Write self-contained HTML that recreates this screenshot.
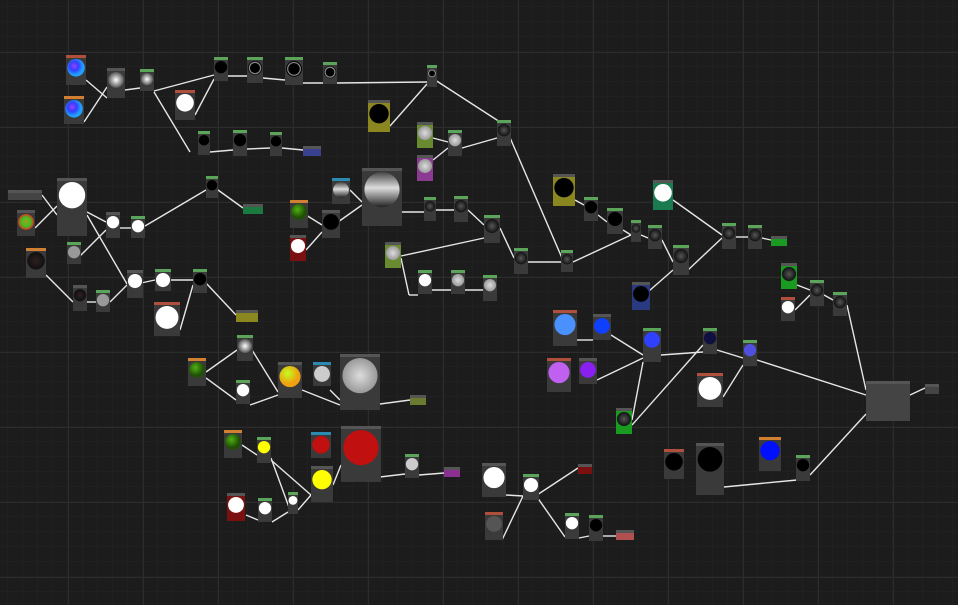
<!DOCTYPE html>
<html><head><meta charset="utf-8"><style>
html,body{margin:0;padding:0;background:#1c1c1c;width:958px;height:605px;overflow:hidden}
svg{display:block}
</style></head><body>
<svg id="s" width="958" height="605" xmlns="http://www.w3.org/2000/svg">
<defs>
<pattern id="minor" width="15" height="15" patternUnits="userSpaceOnUse" x="8" y="7"><path d="M15 0V15H0" fill="none" stroke="#232323" stroke-width="1"/></pattern>
<pattern id="major" width="75" height="75" patternUnits="userSpaceOnUse" x="68" y="52"><path d="M0 0V75M0 0H75" fill="none" stroke="#2c2c2c" stroke-width="2"/></pattern>
<radialGradient id="blue" cx="40%" cy="40%"><stop offset="0" stop-color="#a040ff"/><stop offset="0.5" stop-color="#3040ff"/><stop offset="1" stop-color="#20a0ff"/></radialGradient>
<radialGradient id="soft"><stop offset="0" stop-color="#fff"/><stop offset="1" stop-color="#555"/></radialGradient>
<radialGradient id="rg" cx="50%" cy="50%"><stop offset="0" stop-color="#a0a020"/><stop offset="0.6" stop-color="#40c020"/><stop offset="1" stop-color="#e03020"/></radialGradient>
<radialGradient id="dk"><stop offset="0" stop-color="#302020"/><stop offset="1" stop-color="#101010"/></radialGradient>
<linearGradient id="gs" x1="0" y1="0" x2="0" y2="1"><stop offset="0" stop-color="#444"/><stop offset="0.45" stop-color="#ddd"/><stop offset="1" stop-color="#222"/></linearGradient>
<radialGradient id="yg" cx="40%" cy="35%"><stop offset="0" stop-color="#c0ff20"/><stop offset="1" stop-color="#f0a010"/></radialGradient>
<radialGradient id="gr" cx="40%" cy="35%"><stop offset="0" stop-color="#50b010"/><stop offset="1" stop-color="#205008"/></radialGradient>
<radialGradient id="ns"><stop offset="0" stop-color="#ddd"/><stop offset="1" stop-color="#999"/></radialGradient>
<radialGradient id="sp"><stop offset="0" stop-color="#555"/><stop offset="1" stop-color="#111"/></radialGradient>
</defs>
<rect width="958" height="605" fill="url(#minor)"/>
<rect width="958" height="605" fill="url(#major)"/>
<g id="e" stroke="#e6e6e6" stroke-width="1.4" fill="none"></g>
<g id="n"></g>
</svg>
<script>
var E=[[86,80,107,98],[84,122,107,87],[125,90,140,88],[154,91,214,75],[154,92,190,152],[195,115,214,79],[228,76,247,76],[263,78,285,80],[303,83,323,83],[337,83,427,82],[432,78,500,122],[390,126,427,84],[433,138,448,142],[433,160,448,148],[462,148,497,138],[508,133,562,258],[210,152,233,150],[247,149,270,148],[282,148,303,150],[42,195,57,215],[35,228,57,206],[87,212,106,222],[87,215,127,284],[120,228,131,228],[145,226,206,190],[218,190,243,208],[80,256,106,230],[46,275,73,302],[87,302,96,302],[110,302,127,285],[141,283,155,280],[169,280,193,280],[205,282,236,315],[180,330,193,285],[306,215,322,225],[306,250,322,232],[338,222,362,205],[350,190,362,202],[402,212,424,212],[436,210,454,210],[468,210,484,225],[401,258,409,295],[409,295,418,295],[401,256,484,238],[432,290,451,290],[465,290,483,290],[500,228,514,258],[528,262,561,262],[573,262,631,235],[575,200,584,205],[598,215,607,222],[623,230,631,235],[641,235,648,238],[662,240,673,262],[641,298,673,270],[673,200,722,235],[688,270,722,238],[736,237,748,237],[762,238,771,240],[797,285,810,290],[795,310,810,295],[824,295,833,300],[847,305,866,390],[577,340,593,340],[611,335,643,355],[597,380,643,358],[661,355,703,352],[717,350,743,358],[757,360,866,395],[723,397,743,365],[632,420,643,362],[632,425,703,345],[910,395,925,388],[724,487,797,480],[810,475,866,414],[206,372,237,350],[206,378,236,400],[250,405,278,395],[252,350,278,392],[302,390,340,405],[330,390,340,400],[380,404,410,400],[242,445,257,455],[271,458,290,510],[271,460,311,495],[246,515,258,520],[272,522,288,512],[298,510,311,495],[333,485,341,465],[380,477,405,474],[419,475,444,473],[506,495,523,496],[502,540,523,496],[537,495,578,468],[537,497,565,537],[579,538,589,536],[603,536,616,536]];
var G='#5aa55a',R='#b0503c',O='#d08030',H='#555',B='#3a3a3a',BL='#2a8ab0';
var N=[
[66,55,20,30,R,B,'url(#blue)'],[64,96,20,28,O,B,'url(#blue)'],[107,68,18,30,H,B,'url(#soft)'],[140,69,14,22,G,B,'url(#soft)'],[175,90,20,30,R,B,'#fff'],
[214,57,14,24,G,B,'#000'],[247,57,16,26,G,B,'#000','ring'],[285,57,18,28,G,B,'#000','ring'],[323,62,14,22,G,B,'#000','ring'],[427,65,10,22,G,B,'#000','ring'],
[368,100,22,32,H,'#8a8620','#000'],[417,122,16,26,H,'#6a8a30','url(#ns)'],[417,155,16,26,H,'#8a3a90','url(#ns)'],[448,130,14,26,G,B,'url(#ns)'],[497,120,14,26,G,B,'url(#sp)'],
[198,131,12,24,G,B,'#000'],[233,130,14,26,G,B,'#000'],[270,132,12,24,G,B,'#000'],[303,146,18,10,H,'#3a4090',null],
[8,190,34,10,H,'#444',null],[57,178,30,58,H,B,'#fff'],[17,210,18,26,H,B,'url(#rg)'],[106,212,14,26,H,B,'#fff'],[131,216,14,22,G,B,'#fff'],[206,176,12,22,G,B,'#000'],[243,204,20,10,H,'#1a7a40',null],
[26,248,20,30,O,B,'url(#dk)'],[67,242,14,22,G,B,'#999'],[73,285,14,26,H,B,'url(#dk)'],[96,290,14,22,G,B,'#999'],[127,270,16,28,H,B,'#fff'],[155,269,16,22,G,B,'#fff'],[193,269,14,24,G,B,'#000'],[154,302,26,34,R,B,'#fff'],[236,310,22,12,H,'#8a8620',null],
[290,200,18,28,O,B,'url(#gr)'],[290,235,16,26,H,'#7a1010','#fff'],[322,210,18,28,H,B,'#000'],[332,178,18,26,BL,B,'url(#gs)'],[362,168,40,58,H,B,'url(#gs)'],
[424,197,12,24,G,B,'url(#sp)'],[454,196,14,26,G,B,'url(#sp)'],[385,242,16,26,H,'#6a8a30','url(#ns)'],[484,215,16,28,G,B,'url(#sp)'],[514,248,14,26,G,B,'url(#sp)'],[418,270,14,24,G,B,'#fff'],[451,270,14,24,G,B,'url(#ns)'],[483,275,14,26,G,B,'url(#ns)'],
[553,174,22,32,H,'#8a8620','#000'],[584,197,14,24,G,B,'#000'],[607,208,16,26,G,B,'#000'],[631,220,10,22,G,B,'url(#sp)'],[648,225,14,24,G,B,'url(#sp)'],[673,245,16,30,G,B,'url(#sp)'],[561,250,12,22,G,B,'url(#sp)'],
[653,180,20,30,H,'#1a7a50','#fff'],[722,223,14,26,G,B,'url(#sp)'],[748,225,14,24,G,B,'url(#sp)'],[771,236,16,10,H,'#1a9a20',null],
[781,263,16,26,H,'#1a9a20','url(#sp)'],[781,297,14,24,R,B,'#fff'],[810,280,14,26,G,B,'url(#sp)'],[833,292,14,24,G,B,'url(#sp)'],
[632,282,18,28,H,'#2a3a80','#000'],[553,310,24,36,R,B,'#4a90ff'],[593,314,18,26,H,B,'#1040ff'],[547,358,24,34,R,B,'#c060f0'],[579,358,18,26,H,B,'#8a20f0'],
[643,328,18,34,G,B,'#3040ff'],[703,328,14,26,G,B,'#101040'],[743,340,14,26,G,B,'#5050e0'],[697,373,26,34,R,B,'#fff'],[616,408,16,26,H,'#1a9a20','url(#sp)'],
[866,381,44,40,H,'#444',null],[925,384,14,10,H,'#444',null],
[188,358,18,28,O,B,'url(#gr)'],[237,335,16,26,G,B,'url(#soft)'],[236,380,14,24,G,B,'#fff'],[278,362,24,36,H,B,'url(#yg)'],[313,362,18,24,BL,B,'#ccc'],[340,354,40,56,H,B,'url(#ns)'],[410,395,16,10,H,'#6a7a30',null],
[224,430,18,28,O,B,'url(#gr)'],[257,437,14,26,G,B,'#ff0'],[227,493,18,28,H,'#7a1010','#fff'],[258,498,14,24,G,B,'#fff'],[288,492,10,22,G,B,'#fff'],
[311,432,20,26,BL,'#3a3a3a','#c01010'],[341,426,40,56,H,B,'#c01010'],[311,466,22,36,H,B,'#ff0'],[405,454,14,24,G,B,'#ccc'],[444,467,16,10,H,'#8a3090',null],
[482,463,24,34,H,B,'#fff'],[523,474,16,26,G,B,'#fff'],[485,512,18,28,R,B,'#555'],[565,513,14,26,G,B,'#fff'],[589,515,14,26,G,B,'#000'],[578,464,14,10,H,'#7a1010',null],[616,530,18,10,H,'#b05050',null],
[664,449,20,30,R,B,'#000'],[696,443,28,52,H,B,'#000'],[759,437,22,34,O,B,'#0010ff'],[796,455,14,26,G,B,'#000']];
var ns='http://www.w3.org/2000/svg';function el(t,a,p){var e=document.createElementNS(ns,t);for(var k in a)e.setAttribute(k,a[k]);p.appendChild(e);return e;}
var ge=document.getElementById('e'),gn=document.getElementById('n');
E.forEach(function(l){el('line',{x1:l[0],y1:l[1],x2:l[2],y2:l[3]},ge);});
N.forEach(function(n){var x=n[0],y=n[1],w=n[2],h=n[3];
el('rect',{x:x,y:y,width:w,height:h,fill:n[5]},gn);
el('rect',{x:x,y:y,width:w,height:Math.min(3,h/3),fill:n[4]},gn);
if(n[6]){var r=Math.min(w*0.44,(h-6)*0.44);var cy=y+3+r+1;
el('circle',{cx:x+w/2,cy:cy,r:r,fill:n[6]},gn);
if(n[7])el('circle',{cx:x+w/2,cy:cy,r:r*0.8,fill:'none',stroke:'#888','stroke-width':1.2},gn);}
});
</script>
</body></html>
